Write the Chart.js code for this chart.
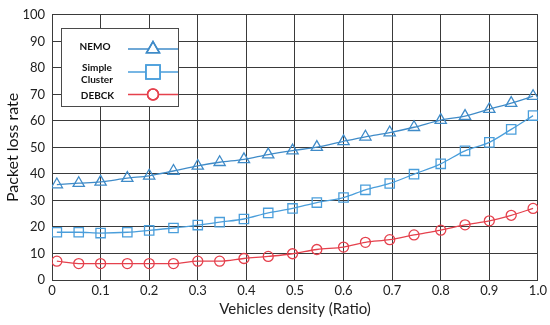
<!DOCTYPE html>
<html>
<head>
<meta charset="utf-8">
<script src="https://cdn.jsdelivr.net/npm/chart.js@4.4.1/dist/chart.umd.min.js"></script>
<style>
  html, body { margin: 0; padding: 0; background: #ffffff; }
  #wrap { width: 550px; height: 325px; }
</style>
</head>
<body>
<div id="wrap"><canvas id="c" width="550" height="325"></canvas></div>
<script>
// ---- Data ----
const densities = [0.01, 0.055, 0.1, 0.155, 0.2, 0.25, 0.3, 0.345, 0.395, 0.445, 0.495, 0.545, 0.6, 0.645, 0.695, 0.745, 0.8, 0.85, 0.9, 0.945, 0.99];
const nemoLoss = [36, 36.5, 37, 38.4, 39.3, 41.1, 43, 44.4, 45.5, 47.3, 48.8, 50.1, 52.3, 54, 55.6, 57.6, 60.3, 61.8, 64.4, 66.7, 69.3];
const simpleClusterLoss = [18, 18, 17.7, 18, 18.7, 19.6, 20.7, 21.8, 23, 25.3, 27, 29.2, 31.1, 34, 36.4, 39.9, 43.8, 48.7, 51.9, 56.8, 62];
const debckLoss = [7.1, 6.2, 6.2, 6.2, 6.2, 6.2, 7.1, 7.1, 8.1, 8.9, 9.9, 11.5, 12.4, 14.2, 15.2, 17, 18.8, 20.8, 22.3, 24.4, 27];
const seriesNames = ['NEMO', 'Simple Cluster', 'DEBCK'];
const xTickLabels = ['0', '0.1', '0.2', '0.3', '0.4', '0.5', '0.6', '0.7', '0.8', '0.9', '1.0'];
const yTicks = [0, 10, 20, 30, 40, 50, 60, 70, 80, 90, 100];

const COLORS = ['#3f8bc8', '#4a9edb', '#e5414d'];
const STYLES = ['triangle', 'rect', 'circle'];
const RADII = [6.5, 6.6, 5];

function toPoints(ys) { return densities.map((x, i) => ({ x: x, y: ys[i] })); }
const allSeries = [nemoLoss, simpleClusterLoss, debckLoss];

const datasets = allSeries.map((ys, i) => ({
  label: seriesNames[i],
  data: toPoints(ys),
  borderColor: COLORS[i],
  backgroundColor: 'rgba(255,255,255,0)',
  borderWidth: 1.3,
  pointStyle: STYLES[i],
  pointRadius: RADII[i],
  pointBorderWidth: 1.3,
  pointBorderColor: COLORS[i],
  pointBackgroundColor: 'rgba(255,255,255,0)',
  cubicInterpolationMode: 'monotone',
  fill: false
}));

// Legend box drawn inside the plot, like the reference
const boxLegend = {
  id: 'boxLegend',
  afterDraw(chart) {
    const ctx = chart.ctx;
    ctx.save();
    const bx = 61, by = 28, bw = 117, bh = 78;
    ctx.fillStyle = '#ffffff';
    ctx.fillRect(bx, by, bw, bh);
    ctx.strokeStyle = '#4a4a4a';
    ctx.lineWidth = 1;
    ctx.strokeRect(bx + 0.5, by + 0.5, bw, bh);

    ctx.fillStyle = '#111111';
    ctx.font = 'bold 10px Lato';
    ctx.textAlign = 'center';
    ctx.textBaseline = 'middle';
    const textRows = [[ 'NEMO', 95, 47 ], [ 'Simple', 97, 67.5 ], [ 'Cluster', 97, 80 ], [ 'DEBCK', 97.5, 95.5 ]];
    textRows.forEach(r => ctx.fillText(r[0], r[1], r[2]));

    const lineYs = [49, 72, 94.5];
    const legRadii = [7.5, 10, 5.5];
    for (let i = 0; i < 3; i++) {
      ctx.strokeStyle = COLORS[i];
      ctx.lineWidth = 1.5;
      ctx.beginPath();
      ctx.moveTo(128, lineYs[i]);
      ctx.lineTo(178, lineYs[i]);
      ctx.stroke();
      ctx.fillStyle = '#ffffff';
      Chart.helpers.drawPoint(ctx, {
        pointStyle: STYLES[i], radius: legRadii[i], borderWidth: 1.4, rotation: 0
      }, 153, lineYs[i]);
      ctx.strokeStyle = COLORS[i];
      ctx.stroke();
    }
    ctx.restore();
  }
};

new Chart(document.getElementById('c'), {
  type: 'line',
  data: { datasets: datasets },
  plugins: [boxLegend],
  options: {
    responsive: false,
    animation: false,
    layout: { padding: { top: 11, right: 12, left: 0, bottom: 0 } },
    plugins: { legend: { display: false }, tooltip: { enabled: false } },
    scales: {
      x: {
        type: 'linear',
        min: 0, max: 1,
        afterFit(scale) { scale.height = 45; },
        afterBuildTicks(scale) { scale.ticks = xTickLabels.map(t => ({ value: parseFloat(t) })); },
        ticks: {
          padding: 3,
          color: '#222222',
          font: { family: 'Lato', size: 13 },
          callback: (v, idx) => xTickLabels[idx],
          maxRotation: 0, autoSkip: false
        },
        grid: { color: '#3a3a3a', lineWidth: 1, drawTicks: false },
        border: { color: '#3a3a3a', width: 1 },
        title: {
          display: true, text: 'Vehicles density (Ratio)',
          color: '#222222', font: { family: 'Lato', size: 15 },
          padding: { top: 0, bottom: 7 }
        }
      },
      y: {
        min: 0, max: 100,
        afterFit(scale) { scale.width = 52; },
        afterBuildTicks(scale) { scale.ticks = yTicks.map(v => ({ value: v })); },
        ticks: {
          padding: 7,
          color: '#222222',
          font: { family: 'Lato', size: 13 }
        },
        grid: { color: '#3a3a3a', lineWidth: 1, drawTicks: false },
        border: { color: '#3a3a3a', width: 1 },
        title: {
          display: true, text: 'Packet loss rate',
          color: '#111111', font: { family: 'Lato', size: 16 },
          padding: { top: 3, bottom: 0 }
        }
      }
    }
  }
});
</script>
</body>
</html>
